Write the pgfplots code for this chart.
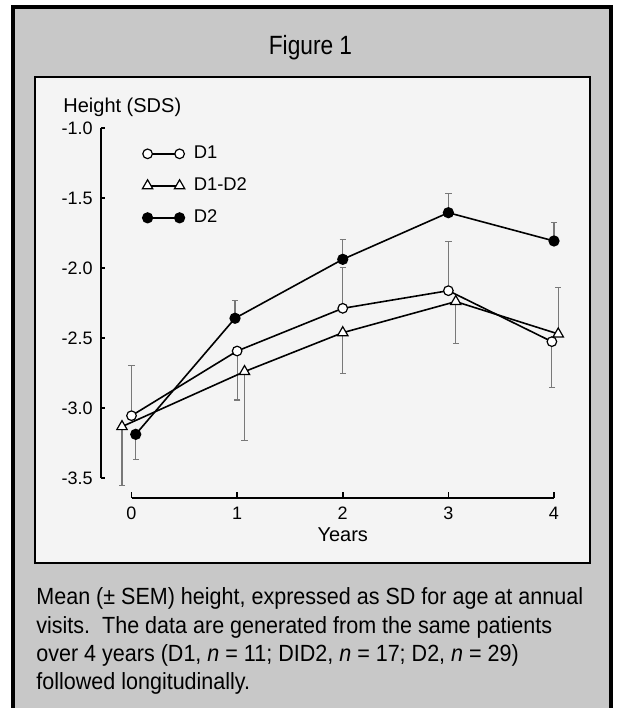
\documentclass[border=0pt]{standalone}
\usepackage{pgfplots}
\pgfplotsset{compat=1.18}
\usepackage{fontspec}
\setmainfont{Liberation Sans}
\newfontfamily\condfont[FakeStretch=0.92]{Liberation Sans}
\newfontfamily\titlefont[FakeStretch=0.86]{Liberation Sans}
\definecolor{panel}{RGB}{200,200,200}
\definecolor{innerbg}{RGB}{244,244,244}
\definecolor{ebar}{RGB}{120,120,120}
\pgfplotsset{ebars/.style={forget plot, draw=none,
  error bars/.cd, y dir=#1, y explicit, error mark=-,
  error bar style={draw=ebar, solid, line width=0.55pt},
  error mark options={rotate=90, draw=ebar, solid, line width=0.55pt, mark size=1.6pt}}}
\begin{document}
\begin{tikzpicture}
\useasboundingbox (0,0) rectangle (309pt,354pt);
\fill[white] (0,0) rectangle (309pt,354pt);
\fill[panel] (6.5pt,0) rectangle (305.5pt,350.5pt);
\draw[line width=1.6pt] (6.5pt,0) -- (6.5pt,350.5pt) -- (305.5pt,350.5pt) -- (305.5pt,0);
\draw[line width=1.1pt, fill=innerbg] (17.5pt,72.5pt) rectangle (295pt,315.5pt);
\node[anchor=base, inner sep=0pt] at (155.25pt,326.5pt) {\titlefont\fontsize{13.2}{15}\selectfont Figure 1};
\begin{scope}[every node/.style={anchor=base west, inner sep=0pt, font=\condfont\fontsize{11.7}{14}\selectfont}]
\node at (18pt,51.5pt) {Mean (± SEM) height, expressed as SD for age at annual};
\node at (18pt,37.35pt) {visits.\ \ The data are generated from the same patients};
\node at (18pt,23.2pt) {over 4 years (D1, \textit{n} = 11; DID2, \textit{n} = 17; D2, \textit{n} = 29)};
\node at (18pt,9.05pt) {followed longitudinally.};
\end{scope}

\begin{axis}[
  at={(50.5pt,115pt)}, anchor=south west,
  scale only axis, width=226.5pt, height=175pt,
  xmin=-0.2888, xmax=4, ymin=-3.5, ymax=-1,
  axis x line=none, axis y line*=left,
  axis line style={line width=0.9pt, black},
  ytick={-3.5,-3,-2.5,-2,-1.5,-1},
  yticklabels={-3.5,-3.0,-2.5,-2.0,-1.5,-1.0},
  tick align=inside, major tick length=2pt,
  tick style={line width=0.8pt, black},
  yticklabel style={font=\fontsize{9}{10}\selectfont, inner sep=0pt, anchor=east, xshift=-4pt},
  clip=false,
  legend style={draw=none, fill=none, at={(rel axis cs:0.0905,0.9497)}, anchor=north west,
    inner sep=0pt, row sep=8.1pt, font=\fontsize{9.2}{10}\selectfont,
    nodes={inner sep=0pt}, /tikz/every odd column/.append style={column sep=4.5pt}},
  legend cell align=left,
  legend image code/.code={\draw[#1] plot coordinates {(0pt,0pt) (16pt,0pt)};},
]
% error bars (one-sided, as in the reference)
% D1
\addplot[ebars=plus]
  coordinates {(0,-3.055) +- (0,0.36) (2,-2.288) +- (0,0.29) (3,-2.162) +- (0,0.35)};
\addplot[ebars=minus]
  coordinates {(1,-2.593) +- (0,0.35) (3.98,-2.526) +- (0,0.33)};
% D1-D2
\addplot[ebars=minus]
  coordinates {(-0.09,-3.133) +- (0,0.42) (1.07,-2.74) +- (0,0.49) (2,-2.462) +- (0,0.29) (3.07,-2.24) +- (0,0.30)};
\addplot[ebars=plus]
  coordinates {(4.04,-2.471) +- (0,0.33)};
% D2
\addplot[ebars=minus]
  coordinates {(0.04,-3.188) +- (0,0.18)};
\addplot[ebars=plus]
  coordinates {(0.98,-2.359) +- (0,0.13) (2,-1.938) +- (0,0.14) (3,-1.605) +- (0,0.14) (4,-1.807) +- (0,0.13)};
% series
\addplot[black, line width=0.8pt, mark=*, mark size=2.4pt, mark options={fill=white, line width=0.6pt}]
  coordinates {(0,-3.055) (1,-2.593) (2,-2.288) (3,-2.162) (3.98,-2.526)};
\addplot[black, line width=0.8pt, mark=triangle*, mark size=3pt, mark options={fill=white, line width=0.6pt}]
  coordinates {(-0.09,-3.133) (1.07,-2.74) (2,-2.462) (3.07,-2.24) (4.04,-2.471)};
\addplot[black, line width=0.8pt, mark=*, mark size=2.4pt, mark options={fill=black}]
  coordinates {(0.04,-3.188) (0.98,-2.359) (2,-1.938) (3,-1.605) (4,-1.807)};
\legend{D1, D1-D2, D2}
\node[anchor=base west, inner sep=0pt, font=\fontsize{10}{12}\selectfont, xshift=-19pt, yshift=7.5pt] at (rel axis cs:0,1) {Height (SDS)};
\end{axis}

\begin{axis}[
  at={(65.75pt,105pt)}, anchor=south west,
  scale only axis, width=211.25pt, height=20pt,
  xmin=0, xmax=4, ymin=0, ymax=1,
  axis y line=none, axis x line*=bottom,
  axis line style={line width=0.9pt, black},
  xtick={0,1,2,3,4}, xticklabels={0,1,2,3,4},
  tick align=inside, major tick length=3pt,
  tick style={line width=0.8pt, black},
  xticklabel style={font=\fontsize{9}{10}\selectfont, inner sep=0pt, anchor=north, yshift=-4.2pt},
  clip=false,
]
\node[anchor=base, inner sep=0pt, font=\fontsize{10}{12}\selectfont, yshift=-21.5pt] at (axis cs:2,0) {Years};
\end{axis}
\end{tikzpicture}
\end{document}
